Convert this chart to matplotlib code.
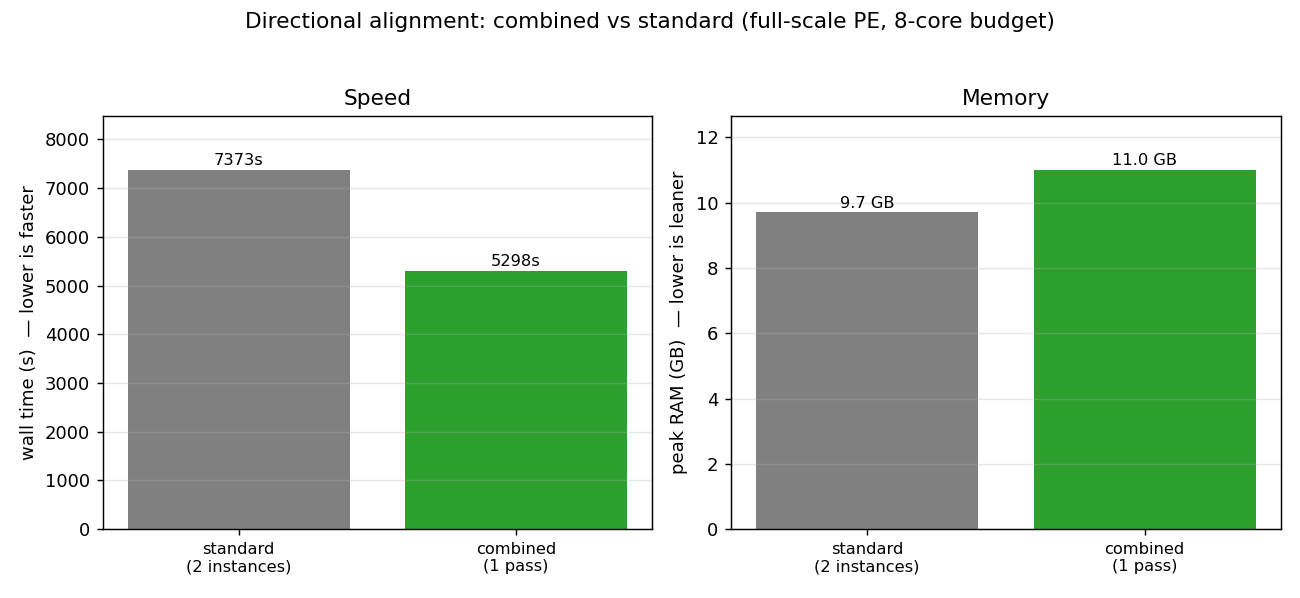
import numpy as np
import matplotlib.pyplot as plt

# data
modes = ["standard\n(2 instances)", "combined\n(1 pass)"]
wall_time_s = [7373, 5298]
peak_ram_gb = [9.7, 11.0]
bar_colors = ["#808080", "#2ca02c"]

fig, (ax1, ax2) = plt.subplots(1, 2, figsize=(10, 4.6), dpi=130)
fig.subplots_adjust(left=0.079, right=0.985, top=0.806, bottom=0.115, wspace=0.144)

x = np.arange(len(modes))

# --- speed ---
bars = ax1.bar(x, wall_time_s, color=bar_colors, width=0.8)
ax1.bar_label(bars, labels=[f"{v}s" for v in wall_time_s], fontsize=9, padding=1)
ax1.set_ylim(0, max(wall_time_s) * 1.15)
ax1.set_title("Speed")
ax1.set_ylabel("wall time (s)  — lower is faster")
ax1.grid(axis="y", alpha=0.3)

# --- memory ---
bars = ax2.bar(x, peak_ram_gb, color=bar_colors, width=0.8)
ax2.bar_label(bars, labels=[f"{v:.1f} GB" for v in peak_ram_gb], fontsize=9, padding=1)
ax2.set_ylim(0, max(peak_ram_gb) * 1.15)
ax2.set_title("Memory")
ax2.set_ylabel("peak RAM (GB)  — lower is leaner")
ax2.grid(axis="y", alpha=0.3)

for ax in (ax1, ax2):
    ax.set_xticks(x)
    ax.set_xticklabels(modes, fontsize=9)

fig.suptitle("Directional alignment: combined vs standard (full-scale PE, 8-core budget)", y=0.98)

fig.savefig("out.png")
